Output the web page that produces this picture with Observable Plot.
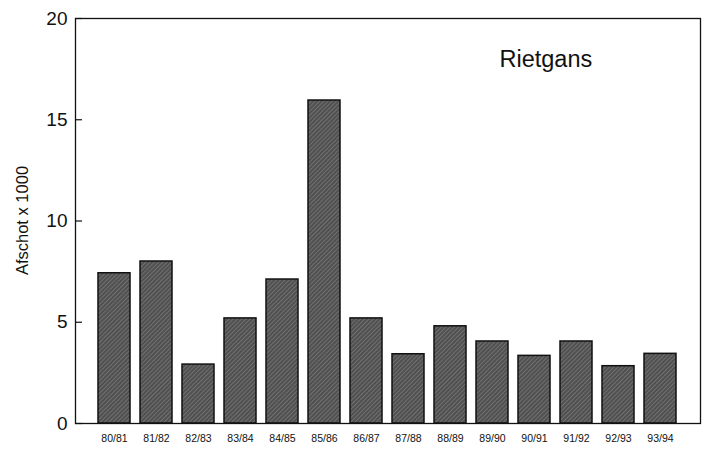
<!DOCTYPE html>
<html>
<head>
<meta charset="utf-8">
<script src="https://cdn.jsdelivr.net/npm/d3@7"></script>
<script src="https://cdn.jsdelivr.net/npm/@observablehq/plot@0.6"></script>
<style>
  html, body { margin: 0; padding: 0; background: #fff; }
  #chart { width: 708px; height: 450px; }
</style>
</head>
<body>
<div id="chart"></div>
<script>
const seasons = ["80/81","81/82","82/83","83/84","84/85","85/86","86/87","87/88","88/89","89/90","90/91","91/92","92/93","93/94"];
const values = [7.42, 8.0, 2.91, 5.19, 7.11, 15.95, 5.19, 3.42, 4.8, 4.05, 3.34, 4.05, 2.83, 3.44];
const yTicks = [0, 5, 10, 15, 20];
const title = "Rietgans";
const yLabel = "Afschot x 1000";

const data = seasons.map((s, i) => ({season: s, value: values[i]}));
const W = 708, H = 450, mL = 75, mR = 8, mT = 18, mB = 27;

const chart = Plot.plot({
  width: W,
  height: H,
  marginLeft: mL,
  marginRight: mR,
  marginTop: mT,
  marginBottom: mB,
  style: {fontFamily: "'Liberation Sans', Arial, sans-serif", background: "#fff", color: "#111"},
  x: {domain: seasons, paddingInner: 0.238, paddingOuter: 0.55, label: null},
  y: {domain: [0, 20], label: null},
  marks: [
    Plot.barY(data, {x: "season", y: "value", fill: "url(#hatch)", stroke: "#111", strokeWidth: 1.5}),
    Plot.ruleY(data, {x: "season", y: "value", stroke: "#e8e8e8", strokeWidth: 1.2, dy: 1.5, insetLeft: 1.5, insetRight: 1.5}),
    Plot.ruleY(yTicks, {stroke: "#111", strokeWidth: 1.2, insetRight: W - mL - mR - 7}),
    Plot.axisY({ticks: yTicks, tickSize: 0, tickPadding: 8, fontSize: 19, label: null}),
    Plot.axisX({tickSize: 0, tickPadding: 11, fontSize: 10.5, label: null}),
    Plot.text([title], {frameAnchor: "top-left", dx: 424, dy: 32, fontSize: 23.5, text: d => d, textAnchor: "start", lineAnchor: "top", fill: "#111"}),
    Plot.frame({stroke: "#111", strokeWidth: 1.3})
  ]
});

// hatch pattern definition
const ns = "http://www.w3.org/2000/svg";
const defs = document.createElementNS(ns, "defs");
defs.innerHTML = `
<pattern id="hatch" patternUnits="userSpaceOnUse" width="3" height="3" patternTransform="rotate(45)">
  <rect width="3" height="3" fill="#505050"/>
  <line x1="0" y1="0" x2="0" y2="3" stroke="#909090" stroke-width="1"/>
</pattern>`;
chart.insertBefore(defs, chart.firstChild);

// y axis label
const lab = document.createElementNS(ns, "text");
lab.setAttribute("transform", `translate(28,${(mT + H - mB) / 2}) rotate(-90)`);
lab.setAttribute("text-anchor", "middle");
lab.setAttribute("font-size", "16.5");
lab.setAttribute("fill", "#111");
lab.textContent = yLabel;
chart.appendChild(lab);

document.getElementById("chart").appendChild(chart);
</script>
</body>
</html>
